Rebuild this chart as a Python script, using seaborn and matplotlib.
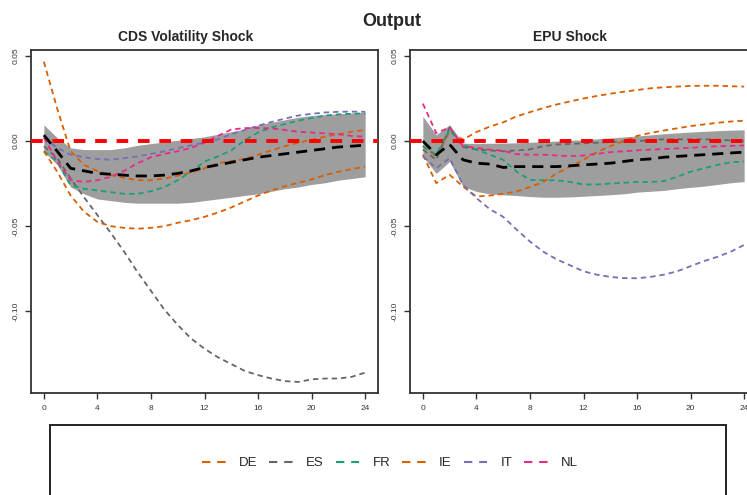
import numpy as np
import pandas as pd
import seaborn as sns
import matplotlib.pyplot as plt
from matplotlib.lines import Line2D
from matplotlib.patches import Rectangle

# horizons
horizon = list(range(25))
countries = ['DE', 'ES', 'FR', 'IE', 'IT', 'NL']
colors = {'DE': '#D95F02', 'ES': '#666666', 'FR': '#1B9E77',
          'IE': '#D95F02', 'IT': '#7570B3', 'NL': '#E7298A'}

# CDS volatility shock panel
cds_upper = [0.0095, 0.002, -0.004, -0.005, -0.005, -0.005, -0.004, -0.0025, -0.0015, -0.0005,
             0.0005, 0.0015, 0.0025, 0.004, 0.0055, 0.007, 0.0095, 0.011, 0.0125, 0.014,
             0.015, 0.0155, 0.016, 0.0165, 0.017]
cds_lower = [-0.006, -0.014, -0.027, -0.031, -0.034, -0.035, -0.036, -0.0365, -0.0365, -0.0365,
             -0.0365, -0.036, -0.035, -0.034, -0.033, -0.032, -0.031, -0.0295, -0.028, -0.027,
             -0.0255, -0.0245, -0.023, -0.022, -0.021]
cds_median = [0.0035, -0.006, -0.016, -0.0175, -0.019, -0.0195, -0.020, -0.0205, -0.0205, -0.020,
              -0.019, -0.0175, -0.0155, -0.014, -0.0125, -0.011, -0.0095, -0.0085, -0.0075, -0.0065,
              -0.0055, -0.0045, -0.0035, -0.003, -0.0024]
cds_DE = [0.0466, 0.019, -0.006, -0.014, -0.0176, -0.020, -0.0216, -0.023, -0.023, -0.022,
          -0.0204, -0.0184, -0.016, -0.013, -0.0118, -0.0105, -0.008, -0.0055, -0.003, -0.001,
          0.0008, 0.0025, 0.004, 0.0055, 0.0065]
cds_ES = [-0.003, -0.010, -0.022, -0.033, -0.0435, -0.054, -0.065, -0.077, -0.088, -0.099,
          -0.108, -0.116, -0.122, -0.127, -0.131, -0.135, -0.1375, -0.1395, -0.141, -0.1415,
          -0.140, -0.1395, -0.1395, -0.1385, -0.136]
cds_FR = [-0.006, -0.012, -0.026, -0.028, -0.029, -0.030, -0.031, -0.031, -0.0295, -0.027,
          -0.023, -0.018, -0.012, -0.009, -0.0055, 0.0005, 0.005, 0.008, 0.010, 0.012,
          0.0135, 0.015, 0.0157, 0.016, 0.0163]
cds_IE = [-0.006, -0.018, -0.032, -0.0415, -0.0475, -0.050, -0.051, -0.0515, -0.051, -0.050,
          -0.048, -0.0465, -0.0445, -0.042, -0.039, -0.0355, -0.032, -0.029, -0.0265, -0.0245,
          -0.0225, -0.020, -0.018, -0.0165, -0.015]
cds_IT = [0.002, -0.004, -0.008, -0.0095, -0.0105, -0.011, -0.010, -0.009, -0.0075, -0.006,
          -0.0042, -0.0025, -0.0008, 0.001, 0.004, 0.0065, 0.009, 0.0112, 0.0132, 0.015,
          0.016, 0.0168, 0.0172, 0.0173, 0.0172]
cds_NL = [0.002, -0.012, -0.023, -0.024, -0.023, -0.021, -0.0175, -0.013, -0.0095, -0.0075,
          -0.006, -0.004, -0.001, 0.003, 0.0068, 0.0076, 0.0077, 0.0075, 0.0065, 0.0055,
          0.005, 0.0045, 0.004, 0.003, 0.0025]

# EPU shock panel
epu_upper = [0.0145, 0.0037, 0.0096, -0.0012, -0.0015, -0.0013, -0.0012, -0.001, -0.0007, -0.0004,
             0.0, 0.0004, 0.0008, 0.0013, 0.0018, 0.0024, 0.003, 0.0036, 0.0043, 0.0048,
             0.0053, 0.0057, 0.0061, 0.0064, 0.0066]
epu_lower = [-0.009, -0.019, -0.012, -0.0267, -0.0296, -0.031, -0.0316, -0.032, -0.0326, -0.033,
             -0.033, -0.0328, -0.0324, -0.032, -0.0315, -0.031, -0.030, -0.0295, -0.029, -0.028,
             -0.0272, -0.0265, -0.0255, -0.0245, -0.0238]
epu_median = [0.0, -0.008, -0.002, -0.011, -0.013, -0.0135, -0.0155, -0.015, -0.015, -0.015,
              -0.015, -0.0145, -0.014, -0.0135, -0.013, -0.012, -0.011, -0.0105, -0.0095, -0.009,
              -0.0085, -0.008, -0.0075, -0.007, -0.0065]
epu_DE = [-0.003, -0.009, 0.0056, 0.0008, 0.0053, 0.0085, 0.011, 0.0145, 0.017, 0.0194,
          0.0215, 0.0233, 0.025, 0.0265, 0.0278, 0.029, 0.030, 0.031, 0.0316, 0.032,
          0.0324, 0.0325, 0.0325, 0.0322, 0.032]
epu_ES = [-0.005, -0.011, 0.008, -0.0035, -0.005, -0.0055, -0.006, -0.0055, -0.0049, -0.003,
          -0.002, -0.0017, -0.0013, -0.001, -0.0005, -0.0002, 0.0, 0.0005, 0.001, 0.001,
          0.001, 0.001, 0.0008, 0.0004, 0.0]
epu_FR = [-0.003, -0.008, 0.0066, -0.0022, -0.005, -0.008, -0.011, -0.018, -0.0228, -0.023,
          -0.023, -0.024, -0.0255, -0.0255, -0.025, -0.0245, -0.024, -0.024, -0.0235, -0.021,
          -0.018, -0.016, -0.014, -0.0125, -0.012]
epu_IE = [-0.008, -0.0247, -0.0198, -0.0267, -0.0326, -0.032, -0.031, -0.0296, -0.027, -0.024,
          -0.019, -0.015, -0.011, -0.0065, -0.003, 0.0, 0.003, 0.0048, 0.0062, 0.0075,
          0.0088, 0.0098, 0.0107, 0.0115, 0.012]
epu_IT = [-0.009, -0.016, -0.010, -0.0257, -0.0335, -0.040, -0.0445, -0.052, -0.059, -0.065,
          -0.0695, -0.073, -0.0765, -0.0785, -0.0798, -0.0805, -0.0806, -0.0798, -0.0785, -0.0765,
          -0.0735, -0.0705, -0.068, -0.065, -0.061]
epu_NL = [0.022, 0.0047, 0.008, -0.003, -0.004, -0.005, -0.0057, -0.0077, -0.008, -0.008,
          -0.0085, -0.0088, -0.0085, -0.0075, -0.0065, -0.006, -0.0055, -0.005, -0.0047, -0.0043,
          -0.004, -0.0035, -0.003, -0.0028, -0.0026]

panels = [
    ('CDS Volatility Shock', cds_upper, cds_lower, cds_median,
     [cds_DE, cds_ES, cds_FR, cds_IE, cds_IT, cds_NL]),
    ('EPU Shock', epu_upper, epu_lower, epu_median,
     [epu_DE, epu_ES, epu_FR, epu_IE, epu_IT, epu_NL]),
]

sns.set_style("white")
plt.rcParams['font.family'] = ['Liberation Sans', 'DejaVu Sans']

W, H = 747, 495
fig = plt.figure(figsize=(W / 100, H / 100), dpi=100)

# axes boxes in pixel coords (left, top, right, bottom)
boxes = [(31, 50, 378, 393), (410, 50, 757, 393)]
title_x = [186, 570]

for (title, up, lo, med, series), (l, t, r, b), tx in zip(panels, boxes, title_x):
    ax = fig.add_axes([l / W, 1 - b / H, (r - l) / W, (b - t) / H])

    ax.fill_between(horizon, lo, up, color='#9e9e9e', lw=0, zorder=1)

    long = pd.DataFrame({
        'h': horizon * len(countries),
        'value': np.concatenate(series),
        'country': np.repeat(countries, len(horizon)),
    })
    sns.lineplot(data=long, x='h', y='value', hue='country', style='country',
                 palette=colors, dashes={c: (3, 2.2) for c in countries},
                 lw=1.3, legend=False, ax=ax, zorder=2)

    sns.lineplot(x=horizon, y=med, color='black', lw=2.0, ax=ax, zorder=3,
                 linestyle=(0, (4, 2.5)))
    ax.axhline(0, color='#ff0000', lw=2.8, linestyle=(0, (3, 2.5)), zorder=4)

    ax.set_xlim(-0.96, 24.96)
    ax.set_ylim(-0.148, 0.0535)
    ax.set_xticks(range(0, 25, 4))
    ax.set_yticks([0.05, 0.0, -0.05, -0.10])
    ax.set_yticklabels(['0.05', '0.00', '-0.05', '-0.10'])
    ax.set_xlabel('')
    ax.set_ylabel('')
    ax.tick_params(axis='both', direction='out', length=4.5, width=1.0,
                   labelsize=6, colors='#333333', pad=4, left=True, bottom=True)
    for lab in ax.get_yticklabels():
        lab.set_rotation(90)
        lab.set_va('center')
    for sp in ax.spines.values():
        sp.set_color('#333333')
        sp.set_linewidth(1.3)

    fig.text(tx / W, 1 - 37 / H, title, ha='center', va='center',
             fontsize=10, fontweight='bold')

fig.text(392 / W, 1 - 21 / H, 'Output', ha='center', va='center',
         fontsize=13, fontweight='bold')

# legend box at the bottom
fig.add_artist(Rectangle((50 / W, -0.1), (726 - 50) / W, (495 - 425) / H + 0.1,
                         transform=fig.transFigure, fill=False,
                         edgecolor='#222222', lw=1.4))
handles = [Line2D([0], [0], color=colors[c], lw=1.5, linestyle=(0, (4, 3.3)))
           for c in countries]
fig.legend(handles, countries, loc='center', bbox_to_anchor=(390 / W, 1 - 463 / H),
           ncol=6, frameon=False, fontsize=9.5, handlelength=1.8,
           handletextpad=1.0, columnspacing=0.9)

fig.savefig('out.png', dpi=100)
